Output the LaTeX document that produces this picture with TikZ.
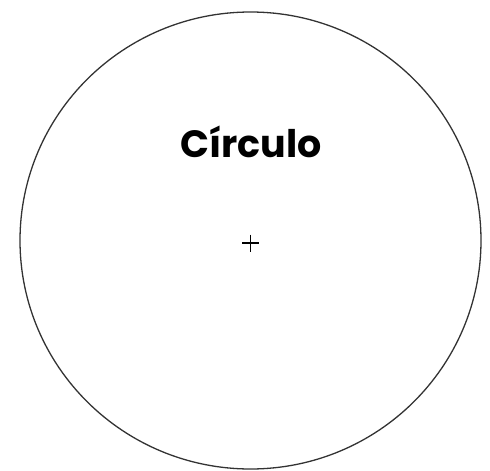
\documentclass[tikz,border=0pt]{standalone}
\usepackage{fontspec}
\usetikzlibrary{calc}
\newfontfamily\titlefont{Poppins}
\begin{document}
\begin{tikzpicture}[x=1pt,y=-1pt]
\useasboundingbox (0,0) rectangle (490,471);
\coordinate (centre) at (250.5,240.5);
\coordinate (mark) at (250.5,243);
\draw[line width=1.3pt,black!80] (centre) circle [x radius=230.5, y radius=228.5];
\node[font=\titlefont\bfseries\fontsize{38}{40}\selectfont] (titulo) at (251,142) {Círculo};
\draw[line width=1.2pt] ($(mark)+(-8.5,0)$) -- ($(mark)+(8.5,0)$)
  ($(mark)+(0,-8.5)$) -- ($(mark)+(0,8.5)$);
\end{tikzpicture}
\end{document}
